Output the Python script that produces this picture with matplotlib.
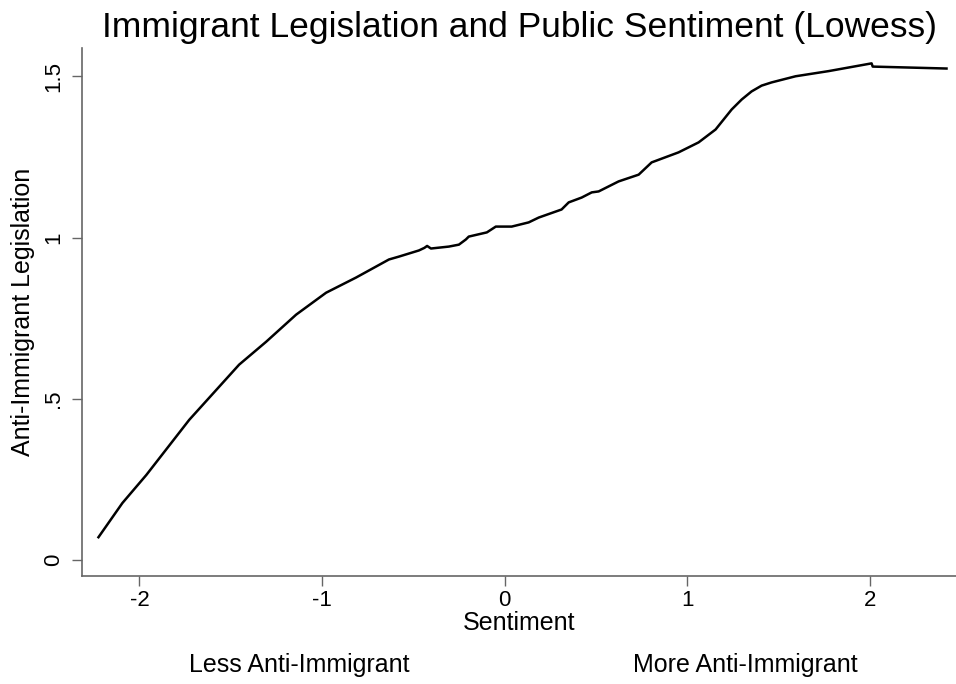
import matplotlib
matplotlib.use("Agg")
import matplotlib.pyplot as plt

plt.rcParams['font.family'] = ['Liberation Sans', 'DejaVu Sans']

# lowess fit of legislation on sentiment
sentiment = [-2.224, -2.093, -1.962, -1.727, -1.454, -1.306, -1.142, -0.978,
             -0.814, -0.634, -0.579, -0.470, -0.440, -0.425, -0.404, -0.306,
             -0.251, -0.213, -0.197, -0.098, -0.049, 0.038, 0.131, 0.186,
             0.311, 0.350, 0.421, 0.476, 0.514, 0.623, 0.733, 0.804,
             0.951, 1.061, 1.154, 1.242, 1.297, 1.351, 1.406, 1.461,
             1.592, 1.773, 2.008, 2.014, 2.418]
legislation = [0.071, 0.177, 0.264, 0.435, 0.606, 0.677, 0.761, 0.829,
               0.876, 0.932, 0.941, 0.960, 0.968, 0.974, 0.966, 0.972,
               0.978, 0.994, 1.003, 1.016, 1.034, 1.034, 1.047, 1.062,
               1.087, 1.109, 1.124, 1.140, 1.143, 1.174, 1.195, 1.233,
               1.264, 1.295, 1.335, 1.397, 1.428, 1.453, 1.471, 1.481,
               1.500, 1.516, 1.540, 1.530, 1.524]

xticks = [-2, -1, 0, 1, 2]
yticks = [0, 0.5, 1, 1.5]
ytick_labels = ['0', '.5', '1', '1.5']

fig = plt.figure(figsize=(9.56, 6.84), dpi=100)
ax = fig.add_axes([0.0858, 0.158, 0.9142, 0.772])

ax.plot(sentiment, legislation, color='black', lw=1.8,
        solid_joinstyle='round')

ax.set_xlim(-2.314, 2.47)
ax.set_ylim(-0.049, 1.588)
ax.set_xticks(xticks)
ax.set_xticklabels([str(t) for t in xticks])
ax.set_yticks(yticks)
ax.set_yticklabels(ytick_labels, rotation=90, va='center')

for s in ['top', 'right']:
    ax.spines[s].set_visible(False)
for s in ['left', 'bottom']:
    ax.spines[s].set_color('#666666')
    ax.spines[s].set_linewidth(1.2)

ax.tick_params(axis='both', direction='out', length=7, width=1,
               color='#666666', labelsize=16)
ax.tick_params(axis='x', pad=3)
ax.tick_params(axis='y', pad=6)

ax.set_xlabel('Sentiment', fontsize=18, labelpad=0)
ax.set_ylabel('Anti-Immigrant Legislation', fontsize=18, labelpad=6)
ax.set_title('Immigrant Legislation and Public Sentiment (Lowess)',
             fontsize=25.5, pad=8)

fig.text(299 / 956, 1 - 665 / 684, 'Less Anti-Immigrant', fontsize=18,
         ha='center', va='center')
fig.text(745 / 956, 1 - 665 / 684, 'More Anti-Immigrant', fontsize=18,
         ha='center', va='center')

fig.savefig('out.png', dpi=100)
